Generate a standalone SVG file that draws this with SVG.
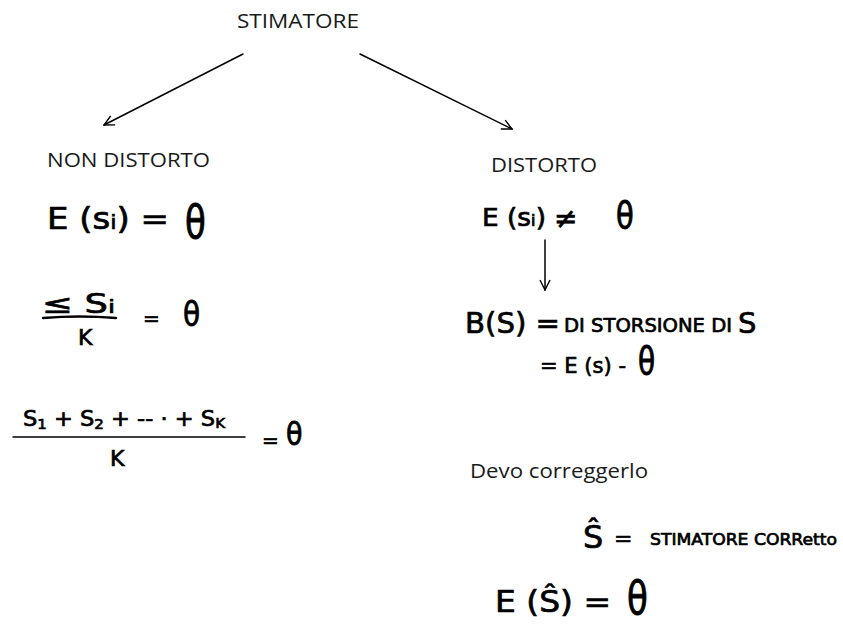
<svg xmlns="http://www.w3.org/2000/svg" width="843" height="632" viewBox="0 0 843 632">
  <defs>
    <style>
      .label { font-family: "Open Sans", "Liberation Sans", sans-serif; font-size: 20px; fill: #1a1a1a; }
      .hand { font-family: "DejaVu Sans", "Liberation Sans", sans-serif; fill: #000; stroke: #000; stroke-width: 0.7; }
      .line { stroke: #000; stroke-width: 1.5; fill: none; stroke-linecap: round; }
      .bar { stroke: #000; stroke-width: 2.5; fill: none; stroke-linecap: round; }
    </style>
    <marker id="open-arrow" viewBox="0 0 12 12" refX="11" refY="6" markerWidth="12" markerHeight="12" markerUnits="userSpaceOnUse" orient="auto">
      <path d="M1,1 L11,6 L1,11" fill="none" stroke="#000" stroke-width="1.4"/>
    </marker>
  </defs>
  <rect width="843" height="632" fill="#fff"/>

  <!-- root -->
  <g id="stimatore">
    <text class="label" x="237" y="28" textLength="122" lengthAdjust="spacingAndGlyphs">STIMATORE</text>
  </g>

  <!-- connectors -->
  <g id="connectors">
    <line class="line" x1="243" y1="54" x2="104" y2="125" marker-end="url(#open-arrow)"/>
    <line class="line" x1="360" y1="54" x2="512" y2="129" marker-end="url(#open-arrow)"/>
    <line class="line" x1="545" y1="240" x2="545" y2="290" marker-end="url(#open-arrow)"/>
  </g>

  <!-- unbiased branch -->
  <g id="non-distorto">
    <text class="label" x="47" y="167" textLength="163" lengthAdjust="spacingAndGlyphs">NON DISTORTO</text>
    <text class="hand" x="47" y="229" font-size="30" textLength="122" lengthAdjust="spacingAndGlyphs">E (s<tspan font-size="20">i</tspan>) =</text>
    <text class="hand" transform="translate(185,238) scale(1,1.35)" font-size="34">θ</text>
    <!-- sum over k -->
    <text class="hand" x="42" y="313" font-size="26" textLength="73" lengthAdjust="spacingAndGlyphs">≤ S<tspan font-size="18">i</tspan></text>
    <path class="bar" d="M43,318 Q80,315 116,318"/>
    <text class="hand" x="78" y="345" font-size="22">K</text>
    <text class="hand" x="143" y="325" font-size="20">=</text>
    <text class="hand" transform="translate(183,326) scale(1,1.2)" font-size="28">θ</text>
    <!-- expanded mean -->
    <text class="hand" x="23" y="426" font-size="21" textLength="202" lengthAdjust="spacingAndGlyphs">S<tspan font-size="14" dy="3">1</tspan><tspan dy="-3"> + S</tspan><tspan font-size="14" dy="3">2</tspan><tspan dy="-3"> + -- · + S</tspan><tspan font-size="14" dy="2">K</tspan></text>
    <line class="line" x1="13" y1="437" x2="245" y2="437"/>
    <text class="hand" x="110" y="466" font-size="22">K</text>
    <text class="hand" x="262" y="447" font-size="20">=</text>
    <text class="hand" transform="translate(286,445) scale(1,1.2)" font-size="27">θ</text>
  </g>

  <!-- biased branch -->
  <g id="distorto">
    <text class="label" x="491" y="172" textLength="106" lengthAdjust="spacingAndGlyphs">DISTORTO</text>
    <text class="hand" x="482" y="226" font-size="24" textLength="64" lengthAdjust="spacingAndGlyphs">E (s<tspan font-size="16">i</tspan>)</text>
    <text class="hand" x="554" y="228" font-size="28">≠</text>
    <text class="hand" transform="translate(616,228) scale(1,1.3)" font-size="29">θ</text>
    <text class="hand" x="465" y="333" font-size="29" textLength="95" lengthAdjust="spacingAndGlyphs">B(S) =</text>
    <text class="hand" x="564" y="332" font-size="19" textLength="168" lengthAdjust="spacingAndGlyphs">DI STORSIONE DI</text>
    <text class="hand" x="738" y="333" font-size="29">S</text>
    <text class="hand" x="540" y="373" font-size="22" textLength="86" lengthAdjust="spacingAndGlyphs">=  E (s) -</text>
    <text class="hand" transform="translate(638,374) scale(1,1.3)" font-size="28">θ</text>
  </g>

  <!-- correction -->
  <g id="correzione">
    <text class="label" x="470" y="478" textLength="178" lengthAdjust="spacingAndGlyphs">Devo correggerlo</text>
    <text class="hand" x="583" y="548" font-size="32">Ŝ</text>
    <text class="hand" x="614" y="546" font-size="22">=</text>
    <text class="hand" x="650" y="545" font-size="16" textLength="187" lengthAdjust="spacingAndGlyphs">STIMATORE CORRetto</text>
    <text class="hand" x="495" y="612" font-size="30" textLength="116" lengthAdjust="spacingAndGlyphs">E (Ŝ) =</text>
    <text class="hand" transform="translate(627,614) scale(1,1.35)" font-size="34">θ</text>
  </g>
</svg>
